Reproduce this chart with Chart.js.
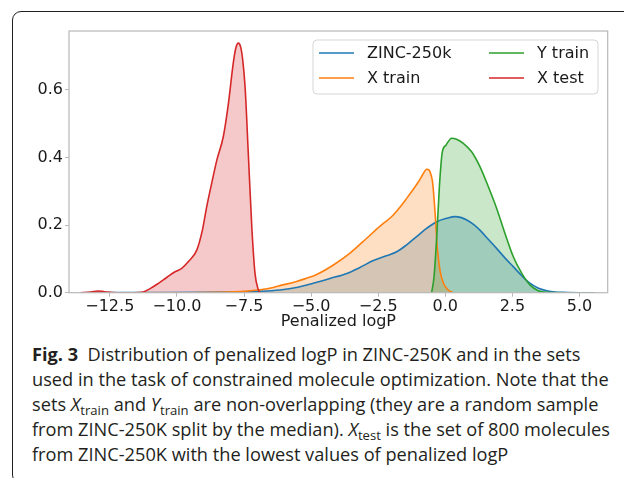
<!DOCTYPE html>
<html>
<head>
<meta charset="utf-8">
<script src="https://cdn.jsdelivr.net/npm/chart.js@4.4.1/dist/chart.umd.min.js"></script>
<style>
  html, body { margin: 0; padding: 0; background: #fff; }
  body { width: 624px; height: 478px; position: relative; overflow: hidden; }
  #frame {
    position: absolute; left: 12px; top: 11px; width: 700px; height: 473px;
    border: 1.2px solid #231f20; border-radius: 9px; box-sizing: border-box;
  }
  #wrap { position: absolute; left: 0; top: 0; width: 624px; height: 340px; }
  #caption {
    position: absolute; left: 32px; top: 341px;
    font-family: "Open Sans", sans-serif; font-size: 18.5px; line-height: 25px;
    color: #231f20; transform-origin: 0 0; white-space: nowrap;
  }
  #caption b { font-weight: 700; }
  #caption sub { font-size: 0.72em; vertical-align: -0.3em; line-height: 0; }
</style>
</head>
<body>
<div id="frame"></div>
<div id="wrap"><canvas id="chart"></canvas></div>
<div id="caption">
  <div class="ln"><b>Fig. 3</b>&nbsp; Distribution of penalized logP in ZINC-250K and in the sets</div>
  <div class="ln" id="ln2">used in the task of constrained molecule optimization. Note that the</div>
  <div class="ln">sets <i>X</i><sub>train</sub> and <i>Y</i><sub>train</sub> are non-overlapping (they are a random sample</div>
  <div class="ln">from ZINC-250K split by the median). <i>X</i><sub>test</sub> is the set of 800 molecules</div>
  <div class="ln">from ZINC-250K with the lowest values of penalized logP</div>
</div>
<script>
// density curves, [penalized logP, density]
const zinc250k = [
  [-13.6, 0], [-11, 0.0005], [-9, 0.001], [-8, 0.002], [-7, 0.004], [-6.16, 0.008],
  [-5.5, 0.016], [-4.92, 0.028], [-4.3, 0.042], [-3.67, 0.057], [-3.2, 0.074],
  [-2.68, 0.095], [-2.2, 0.109], [-1.81, 0.121], [-1.45, 0.141], [-1.07, 0.166],
  [-0.7, 0.19], [-0.32, 0.21], [0.05, 0.22], [0.36, 0.225], [0.6, 0.222], [0.8, 0.215],
  [1.05, 0.202], [1.29, 0.185], [1.6, 0.158], [1.91, 0.131], [2.22, 0.103], [2.53, 0.077],
  [2.85, 0.05], [3.15, 0.028], [3.45, 0.014], [3.78, 0.006], [4.1, 0.002], [4.39, 0.001],
  [5.0, 0], [5.58, 0]
];
const xTrain = [
  [-13.6, 0], [-9.5, 0], [-8.5, 0.001], [-7.5, 0.004], [-7.0, 0.008], [-6.5, 0.014],
  [-6.16, 0.021], [-5.54, 0.033], [-5.2, 0.042], [-4.79, 0.054], [-4.17, 0.082],
  [-3.55, 0.117], [-2.93, 0.161], [-2.43, 0.197], [-2.1, 0.218], [-1.94, 0.23],
  [-1.7, 0.252], [-1.44, 0.279], [-1.2, 0.305], [-1.0, 0.328], [-0.85, 0.348],
  [-0.69, 0.365], [-0.6, 0.362], [-0.52, 0.345], [-0.47, 0.324], [-0.38, 0.235],
  [-0.3, 0.136], [-0.2, 0.067], [-0.07, 0.028], [0.11, 0.008], [0.3, 0]
];
const yTrain = [
  [-0.51, 0], [-0.42, 0.047], [-0.32, 0.166], [-0.22, 0.314], [-0.15, 0.39], [-0.11, 0.417],
  [0.03, 0.437], [0.24, 0.457], [0.42, 0.454], [0.67, 0.442], [0.98, 0.417], [1.29, 0.373],
  [1.6, 0.314], [1.91, 0.25], [2.22, 0.176], [2.53, 0.107], [2.85, 0.057], [3.15, 0.023],
  [3.46, 0.006], [3.78, 0.001], [4.39, 0], [5.58, 0]
];
const xTest = [
  [-13.6, 0], [-13.2, 0.002], [-12.95, 0.005], [-12.7, 0.003], [-12.4, 0.0005], [-12.0, 0],
  [-11.6, 0], [-11.3, 0.001], [-11.0, 0.012], [-10.7, 0.027], [-10.38, 0.045],
  [-10.07, 0.062], [-9.82, 0.072], [-9.57, 0.092], [-9.26, 0.126], [-9.05, 0.185],
  [-8.89, 0.254], [-8.7, 0.325], [-8.51, 0.393], [-8.27, 0.462], [-8.08, 0.56],
  [-7.9, 0.679], [-7.8, 0.725], [-7.71, 0.738], [-7.62, 0.725], [-7.55, 0.69],
  [-7.46, 0.609], [-7.34, 0.412], [-7.21, 0.195], [-7.09, 0.057], [-6.98, 0.012], [-6.9, 0]
];

const seriesLabels = ["ZINC-250k", "X train", "Y train", "X test"];
const xTicks = [-12.5, -10, -7.5, -5, -2.5, 0, 2.5, 5];
const yTicks = [0, 0.2, 0.4, 0.6];

const COLORS = ["#1f77b4", "#ff7f0e", "#2ca02c", "#d62728"];
const FILLS = ["rgba(31,119,180,0.25)", "rgba(255,127,14,0.25)", "rgba(44,160,44,0.25)", "rgba(214,39,40,0.25)"];
const FONT = "'DejaVu Sans', sans-serif";
const TEXT = "#1a1a1a";
const SPINE = "#b8b8b8";

const fmt = (v) => v.toFixed(1).replace("-", "\u2212");

// full box around the plot, matplotlib style
const framePlugin = {
  id: "frame",
  afterDatasetsDraw(chart) {
    const { ctx, chartArea: a } = chart;
    ctx.save();
    ctx.strokeStyle = SPINE;
    ctx.lineWidth = 1.2;
    ctx.strokeRect(a.left, a.top, a.right - a.left, a.bottom - a.top);
    ctx.restore();
  }
};

// two-column legend in the upper right corner
const legendPlugin = {
  id: "boxLegend",
  afterDraw(chart) {
    const { ctx } = chart;
    const x0 = 313, y0 = 40, w = 285, h = 54;
    ctx.save();
    ctx.beginPath();
    ctx.roundRect(x0, y0, w, h, 4);
    ctx.fillStyle = "rgba(255,255,255,0.8)";
    ctx.fill();
    ctx.strokeStyle = "rgba(204,204,204,0.8)";
    ctx.lineWidth = 1;
    ctx.stroke();
    ctx.font = "16px " + FONT;
    ctx.textBaseline = "middle";
    const cols = [319, 489];
    const rows = [53, 78];
    // matplotlib fills columns first
    const order = [[0, 0], [0, 1], [1, 0], [1, 1]];
    chart.data.datasets.forEach((ds, i) => {
      const [c, r] = order[i];
      const lx = cols[c], ly = rows[r];
      ctx.strokeStyle = ds.borderColor;
      ctx.lineWidth = 1.6;
      ctx.beginPath();
      ctx.moveTo(lx, ly);
      ctx.lineTo(lx + 35, ly);
      ctx.stroke();
      ctx.fillStyle = TEXT;
      ctx.fillText(ds.label, lx + 48, ly + 1);
    });
    ctx.restore();
  }
};

const seriesData = [zinc250k, xTrain, yTrain, xTest];

new Chart(document.getElementById("chart"), {
  type: "line",
  data: {
    datasets: seriesData.map((d, i) => ({
      label: seriesLabels[i],
      data: d,
      borderColor: COLORS[i],
      backgroundColor: FILLS[i],
      borderWidth: 1.6,
      fill: "origin",
      pointRadius: 0,
      cubicInterpolationMode: "monotone",
      order: 4 - i
    }))
  },
  options: {
    responsive: true,
    maintainAspectRatio: false,
    animation: false,
    devicePixelRatio: 1,
    layout: { padding: { top: 31, right: 16.3, left: 0, bottom: 0 } },
    plugins: {
      legend: { display: false },
      tooltip: { enabled: false },
      // all shaded areas sit under all lines
      filler: { drawTime: "beforeDatasetsDraw" }
    },
    scales: {
      x: {
        type: "linear",
        min: -14.02,
        max: 6.05,
        afterBuildTicks: (s) => { s.ticks = xTicks.map((v) => ({ value: v })); },
        afterFit: (s) => { s.height = 47.3; },
        border: { display: false },
        grid: { drawOnChartArea: false, drawTicks: true, tickLength: 4, color: SPINE, tickWidth: 1 },
        ticks: { font: { family: FONT, size: 16 }, color: TEXT, padding: 1, maxRotation: 0, callback: (v) => fmt(v) },
        title: { display: true, text: "Penalized logP", font: { family: FONT, size: 16 }, color: TEXT, padding: { top: 0, bottom: 9 } }
      },
      y: {
        min: 0,
        max: 0.774,
        afterBuildTicks: (s) => { s.ticks = yTicks.map((v) => ({ value: v })); },
        afterFit: (s) => { s.width = 69; },
        border: { display: false },
        grid: { drawOnChartArea: false, drawTicks: true, tickLength: 4, color: SPINE, tickWidth: 1 },
        ticks: { font: { family: FONT, size: 16 }, color: TEXT, padding: 2, callback: (v) => fmt(v) }
      }
    }
  },
  plugins: [framePlugin, legendPlugin]
});

// squeeze caption to the width of the original typesetting
const cap = document.getElementById("caption");
const w2 = document.getElementById("ln2").getBoundingClientRect().width;
const sx = 578 / w2;
cap.style.transform = "scaleX(" + sx + ")";
</script>
</body>
</html>
